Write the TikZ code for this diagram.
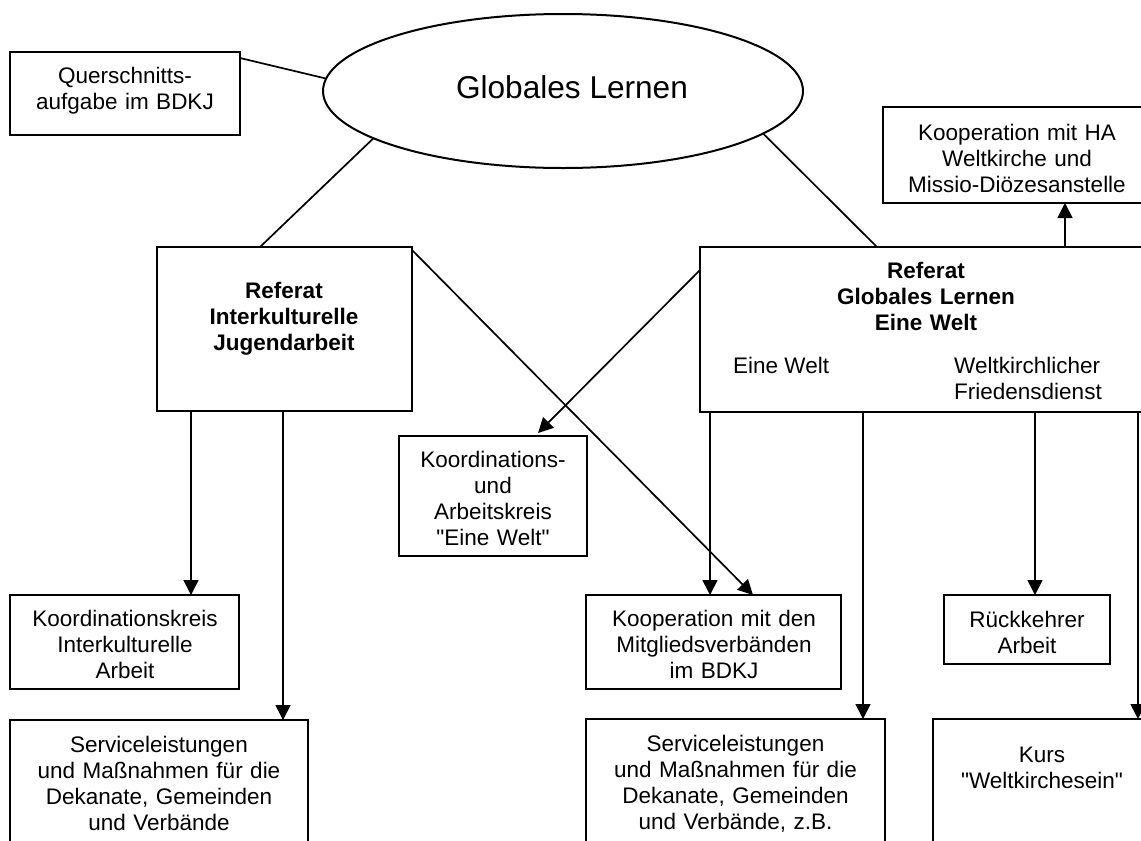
\documentclass[tikz,border=0pt]{standalone}
\usepackage{fontspec}
\setmainfont{Liberation Sans}[Ligatures=TeXOff]
\usetikzlibrary{arrows.meta,calc,shapes.geometric}
\begin{document}
\begin{tikzpicture}[x=1pt,y=-1pt,
  box/.style={draw, line width=2.2pt, inner sep=0pt, outer sep=0pt, anchor=north west},
  txt/.style={font=\fontsize{22.5}{26}\selectfont, align=center, anchor=base, inner sep=0pt, outer sep=0pt, text width=320pt},
  btxt/.style={txt, font=\fontsize{22.5}{26}\selectfont\bfseries},
  conn/.style={line width=1.7pt},
  arr/.style={conn, -{Triangle[length=15pt,width=15pt]}}
]
\useasboundingbox (0,0) rectangle (1141,841);
\clip (0,0) rectangle (1141,841);
\fill[white] (0,0) rectangle (1141,841);

% boxes
\node[box, minimum width=230pt, minimum height=83pt] (quer) at (10,52) {};
\node[draw, ellipse, line width=2pt, inner sep=0pt, outer sep=0pt, minimum width=480pt, minimum height=154pt] (glob) at (563,91) {};
\node[box, minimum width=255pt, minimum height=164pt] (refIK) at (157,247) {};
\node[box, minimum width=452pt, minimum height=165pt] (refGL) at (700,247) {};
\node[box, minimum width=268pt, minimum height=96pt] (kha) at (883,107) {};
\node[box, minimum width=188pt, minimum height=120pt] (koe) at (399,436) {};
\node[box, minimum width=229pt, minimum height=94pt] (kik) at (10,595) {};
\node[box, minimum width=255pt, minimum height=94pt] (kmv) at (586,595) {};
\node[box, minimum width=166pt, minimum height=69pt] (rk) at (944,595) {};
\node[box, minimum width=298pt, minimum height=150pt] (svL) at (10,720) {};
\node[box, minimum width=299pt, minimum height=150pt] (svR) at (586,719) {};
\node[box, minimum width=218pt, minimum height=150pt] (kurs) at (933,719) {};

% texts
\node[txt] (tquer) at (125,83) {Querschnitts-\\aufgabe im BDKJ};
\node[font=\fontsize{31.6}{36}\selectfont, anchor=base, inner sep=0pt] (tglob) at (572,98) {Globales Lernen};
\node[btxt] (trefIK) at (284,298) {Referat\\Interkulturelle\\Jugendarbeit};
\node[btxt] (trefGL) at (926,278) {Referat\\Globales Lernen\\Eine Welt};
\node[font=\fontsize{22.5}{26}\selectfont, anchor=base west, inner sep=0pt] (tew) at (733,373) {Eine Welt};
\node[font=\fontsize{22.5}{26}\selectfont, align=left, text width=200pt, anchor=base west, inner sep=0pt] (twf) at (954,373) {Weltkirchlicher\\Friedensdienst};
\node[txt] (tkha) at (1017,140) {Kooperation mit HA\\Weltkirche und\\Missio-Diözesanstelle};
\node[txt] (tkoe) at (493,467) {Koordinations-\\und\\Arbeitskreis\\"Eine Welt"};
\node[txt] (tkik) at (125,626) {Koordinationskreis\\Interkulturelle\\Arbeit};
\node[txt] (tkmv) at (714,626) {Kooperation mit den\\Mitgliedsverbänden\\im BDKJ};
\node[txt] (trk) at (1027,627) {Rückkehrer\\Arbeit};
\node[txt] (tsvL) at (159,752) {Serviceleistungen\\und Maßnahmen für die\\Dekanate, Gemeinden\\und Verbände};
\node[txt] (tsvR) at (735.5,751) {Serviceleistungen\\und Maßnahmen für die\\Dekanate, Gemeinden\\und Verbände, z.B.};
\node[txt] (tkurs) at (1042,762) {Kurs\\"Weltkirchesein"};

% connectors
\draw[conn] ($(quer.north east)+(0,6)$) -- (glob.177);
\draw[conn] (glob.194) -- ($(refIK.north west)+(103,0)$);
\draw[conn] (glob.348) -- ($(refGL.north west)+(177,0)$);
\draw[arr] ($(refGL.north west)+(365,0)$) -- ($(kha.south west)+(182,0)$);
\draw[arr] ($(refIK.north east)+(0,3)$) -- ($(kmv.north west)+(167,0)$);
\draw[arr] ($(refGL.north west)+(0,23)$) -- ($(koe.north west)+(139,-3)$);
\draw[arr] ($(refIK.south west)+(34,0)$) -- ($(kik.north west)+(181,0)$);
\draw[arr] ($(refIK.south west)+(126,0)$) -- ($(svL.north west)+(273,0)$);
\draw[arr] ($(refGL.south west)+(10,0)$) -- ($(kmv.north west)+(124,0)$);
\draw[arr] ($(refGL.south west)+(163,0)$) -- ($(svR.north west)+(277,0)$);
\draw[arr] ($(refGL.south west)+(335,0)$) -- ($(rk.north west)+(91,0)$);
\draw[arr] ($(refGL.south west)+(438,0)$) -- ($(kurs.north west)+(205,0)$);
\end{tikzpicture}
\end{document}
